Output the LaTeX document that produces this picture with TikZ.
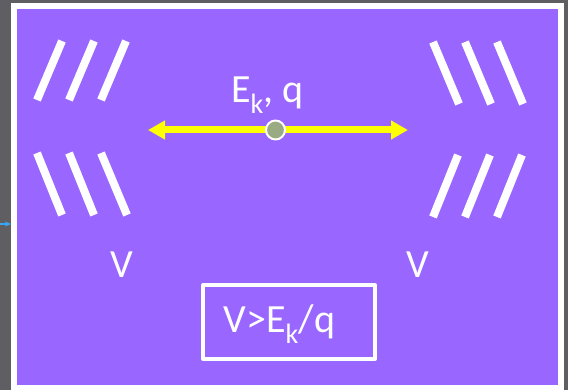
\documentclass[tikz,border=0pt]{standalone}
\usepackage{fontspec}
\setmainfont{Carlito}
\usepackage{xcolor}
\usetikzlibrary{arrows.meta}

\definecolor{slate}{HTML}{5F5F63}
\definecolor{lilac}{HTML}{9966FF}
\definecolor{sunny}{HTML}{FFFF00}
\definecolor{sage}{HTML}{9AAB84}
\definecolor{skyline}{HTML}{3AA8F0}

\tikzset{
  grid line/.style={white,line width=8pt},
  volt/.style={text=white,font=\fontsize{40}{44}\selectfont,inner sep=0pt},
}

\begin{document}
\begin{tikzpicture}[x=1pt,y=-1pt,line join=round]
  \useasboundingbox (0,0) rectangle (568,390);
  \fill[slate] (0,0) rectangle (568,390);
  \fill[white] (11,3) rectangle (564,390);
  \fill[lilac] (17,9) rectangle (558,385);
  % stray arrow tip on the left edge
  \coordinate (S0) at (0,224);
  \coordinate (S1) at (11,224);
  \draw[skyline,line width=1.5pt,-{Stealth[length=6pt,width=5pt]}] (S0) -- (S1);
  % left grids
  \draw[grid line] (37,100) -- (62,41);
  \draw[grid line] (69,100) -- (94,41);
  \draw[grid line] (101,100) -- (126,41);
  \draw[grid line] (37,153) -- (62,215);
  \draw[grid line] (69,153) -- (94,215);
  \draw[grid line] (101,153) -- (127,215);
  % right grids
  \draw[grid line] (433,42) -- (459,104);
  \draw[grid line] (465,42) -- (491,104);
  \draw[grid line] (497,42) -- (523,104);
  \draw[grid line] (433,217) -- (458,155);
  \draw[grid line] (465,217) -- (490,155);
  \draw[grid line] (497,217) -- (522,155);
  % particle
  \coordinate (AL) at (148,130);
  \coordinate (AR) at (408,130);
  \draw[sunny,line width=7pt,{Triangle[length=17pt,width=18pt]}-{Triangle[length=17pt,width=18pt]}] (AL) -- (AR);
  \node[circle,fill=sage,draw=white,line width=2pt,minimum size=19pt,inner sep=0pt] (ion) at (275.5,130) {};
  \node[volt,anchor=base] (ek) at (267.5,103) {E\textsubscript{k}, q};
  % potentials
  \node[volt,anchor=base] (VL) at (122,278) {V};
  \node[volt,anchor=base] (VR) at (418,278) {V};
  \node[draw=white,line width=4pt,minimum width=172pt,minimum height=74pt,inner sep=0pt] (cbox) at (289,322) {};
  \node[volt,anchor=base] (cond) at (279.5,333) {V>E\textsubscript{k}/q};
\end{tikzpicture}
\end{document}
